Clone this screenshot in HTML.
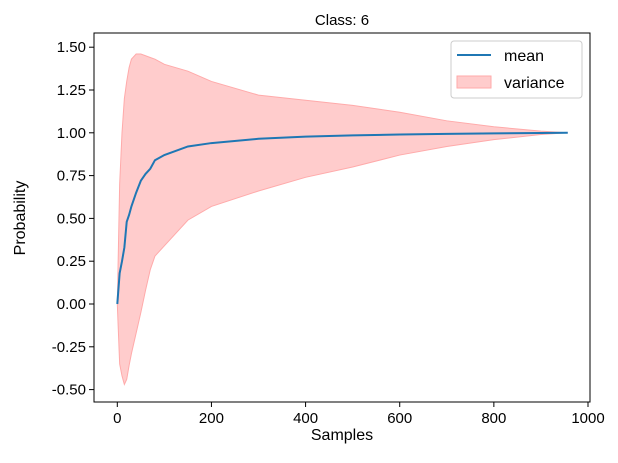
<!DOCTYPE html>
<html><head><meta charset="utf-8"><style>
body{margin:0;background:#fff;}
svg{display:block;font-family:"Liberation Sans","DejaVu Sans",sans-serif;}
</style></head><body>
<svg id="chart" width="618" height="463"></svg>
<script>
const xVals=[0,5,10,15,20,25,30,40,50,60,70,80,100,150,200,300,400,500,600,700,800,900,957];
const meanVals=[0,0.18,0.25,0.33,0.48,0.52,0.57,0.65,0.72,0.76,0.79,0.84,0.87,0.92,0.94,0.965,0.978,0.985,0.99,0.994,0.997,0.999,1.0];
const upperVals=[0,0.7,1.0,1.2,1.3,1.38,1.43,1.46,1.46,1.45,1.44,1.43,1.40,1.36,1.30,1.22,1.19,1.16,1.12,1.07,1.035,1.01,1.0];
const lowerVals=[0,-0.35,-0.42,-0.47,-0.44,-0.36,-0.29,-0.17,-0.05,0.08,0.2,0.28,0.34,0.49,0.57,0.66,0.74,0.80,0.87,0.92,0.96,0.99,1.0];
const xTicks=[0,200,400,600,800,1000];
const yTicks=[-0.5,-0.25,0,0.25,0.5,0.75,1.0,1.25,1.5];
const NS="http://www.w3.org/2000/svg";
const svg=document.getElementById('chart');
const L=94,R=590,T=33,B=402;
const sx=v=>117.3+v*(588-117.3)/1000;
const sy=v=>304-v*171.2;
function mk(tag,at,parent){const e=document.createElementNS(NS,tag);for(const k in at)e.setAttribute(k,at[k]);(parent||svg).appendChild(e);return e;}
let d='M'+xVals.map((x,i)=>sx(x)+','+sy(upperVals[i])).join('L');
for(let i=xVals.length-1;i>=0;i--)d+='L'+sx(xVals[i])+','+sy(lowerVals[i]);
const band=mk('path',{d:d+'Z',fill:'#ffcccc',stroke:'#ffaaaa','stroke-width':1});


const line=mk('path',{d:'M'+xVals.map((x,i)=>sx(x)+','+sy(meanVals[i])).join('L'),fill:'none',stroke:'#1f77b4','stroke-width':2});


const frame=mk('rect',{x:L,y:T,width:R-L,height:B-T,fill:'none',stroke:'#000','stroke-width':1});


xTicks.forEach(v=>{const x=sx(v);mk('line',{x1:x,x2:x,y1:B,y2:B+5,stroke:'#000'});
const t=mk('text',{x:x,y:B+21,'text-anchor':'middle','font-size':15,fill:'#000'});t.textContent=v;

});
yTicks.forEach(v=>{const y=sy(v);mk('line',{x1:L-5,x2:L,y1:y,y2:y,stroke:'#000'});
const t=mk('text',{x:L-8,y:y+5,'text-anchor':'end','font-size':15,fill:'#000'});t.textContent=v.toFixed(2);

});
let t=mk('text',{x:342,y:440,'text-anchor':'middle','font-size':16});t.textContent='Samples';


t=mk('text',{x:0,y:0,'text-anchor':'middle','font-size':16,transform:'translate(25,218) rotate(-90)'});t.textContent='Probability';


t=mk('text',{x:342,y:25,'text-anchor':'middle','font-size':15});t.textContent='Class: 6';


const lg=mk('g',{});


mk('rect',{x:451,y:41,width:131,height:57,rx:3,fill:'#fff','fill-opacity':0.8,stroke:'#ccc'},lg);
mk('line',{x1:457,x2:491,y1:55,y2:55,stroke:'#1f77b4','stroke-width':2},lg);
t=mk('text',{x:504,y:61,'font-size':16},lg);t.textContent='mean';


mk('rect',{x:457,y:76,width:34,height:12,fill:'#ffcccc',stroke:'#ffaaaa'},lg);
t=mk('text',{x:504,y:88,'font-size':16},lg);t.textContent='variance';


</script>
</body></html>
